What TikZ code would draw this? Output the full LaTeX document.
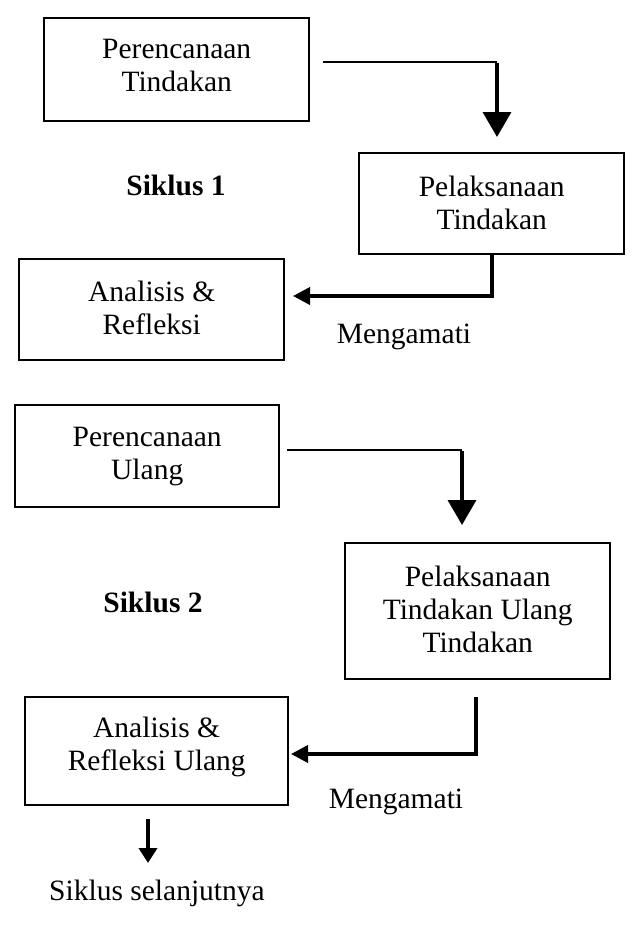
\documentclass[tikz,border=0pt]{standalone}
\usepackage{fontspec}
\setmainfont{Liberation Serif}
\usetikzlibrary{arrows.meta}
\begin{document}
\begin{tikzpicture}[x=1pt,y=-1pt,
  every node/.style={font=\fontsize{29.5}{33}\selectfont},
  every label/.style={align=center, inner sep=0pt},
  boxnode/.style={draw, line width=2.4pt, inner sep=0pt, anchor=north west},
  thinlink/.style={line width=2.3pt},
  thicklink/.style={line width=3.6pt},
  bigtip/.style={-{Triangle[length=25pt,width=28pt]}},
  smalltip/.style={-{Triangle[length=17pt,width=17pt]}},
  lbl/.style={inner sep=0pt}]
\useasboundingbox (0,0) rectangle (634,930);

% Siklus 1
\node[boxnode, minimum width=265pt, minimum height=103pt,
  label={[yshift=4pt]center:{Perencanaan\\Tindakan}}] (b1) at (43,17) {};
\node[boxnode, minimum width=265pt, minimum height=101pt,
  label={[yshift=1pt]center:{Pelaksanaan\\Tindakan}}] (b2) at (358,152) {};
\node[boxnode, minimum width=265pt, minimum height=101pt,
  label={[yshift=2pt]center:{Analisis \&\\Refleksi}}] (b3) at (18,258) {};
\node[lbl, font=\fontsize{29.5}{33}\selectfont\bfseries] (s1) at (176,185) {Siklus 1};
\node[lbl] (m1) at (404,337) {Mengamati};

\coordinate (a1s) at (323,62);
\coordinate (a1e) at (497,137);
\draw[thinlink] (a1s) -- (a1s -| a1e);
\draw[thicklink, bigtip] ([yshift=-1.1pt]a1s -| a1e) -- (a1e);

\coordinate (a2c) at (492,296);
\coordinate (a2e) at (293,296);
\draw[thicklink, smalltip] (b2.south -| a2c) -- (a2c) -- (a2e);

% Siklus 2
\node[boxnode, minimum width=264pt, minimum height=102pt,
  label={[yshift=0pt]center:{Perencanaan\\Ulang}}] (b4) at (14,404) {};
\node[boxnode, minimum width=265pt, minimum height=136pt,
  label={[yshift=2pt]center:{Pelaksanaan\\Tindakan Ulang\\Tindakan}}] (b5) at (344,542) {};
\node[boxnode, minimum width=263pt, minimum height=108pt,
  label={[yshift=4pt]center:{Analisis \&\\Refleksi Ulang}}] (b6) at (24,696) {};
\node[lbl, font=\fontsize{29.5}{33}\selectfont\bfseries] (s2) at (153,602) {Siklus 2};
\node[lbl] (m2) at (396,802) {Mengamati};

\coordinate (a3s) at (287,450);
\coordinate (a3e) at (462,525);
\draw[thinlink] (a3s) -- (a3s -| a3e);
\draw[thicklink, bigtip] ([yshift=-1.1pt]a3s -| a3e) -- (a3e);

\coordinate (a4s) at (476,697);
\coordinate (a4c) at (476,754);
\coordinate (a4e) at (291,754);
\draw[thicklink, smalltip] (a4s) -- (a4c) -- (a4e);

\coordinate (a5s) at (148,819);
\coordinate (a5e) at (148,863);
\draw[thicklink, -{Triangle[length=15pt,width=18pt]}] (a5s) -- (a5e);

\node[lbl] (next) at (157,893) {Siklus selanjutnya};
\end{tikzpicture}
\end{document}
